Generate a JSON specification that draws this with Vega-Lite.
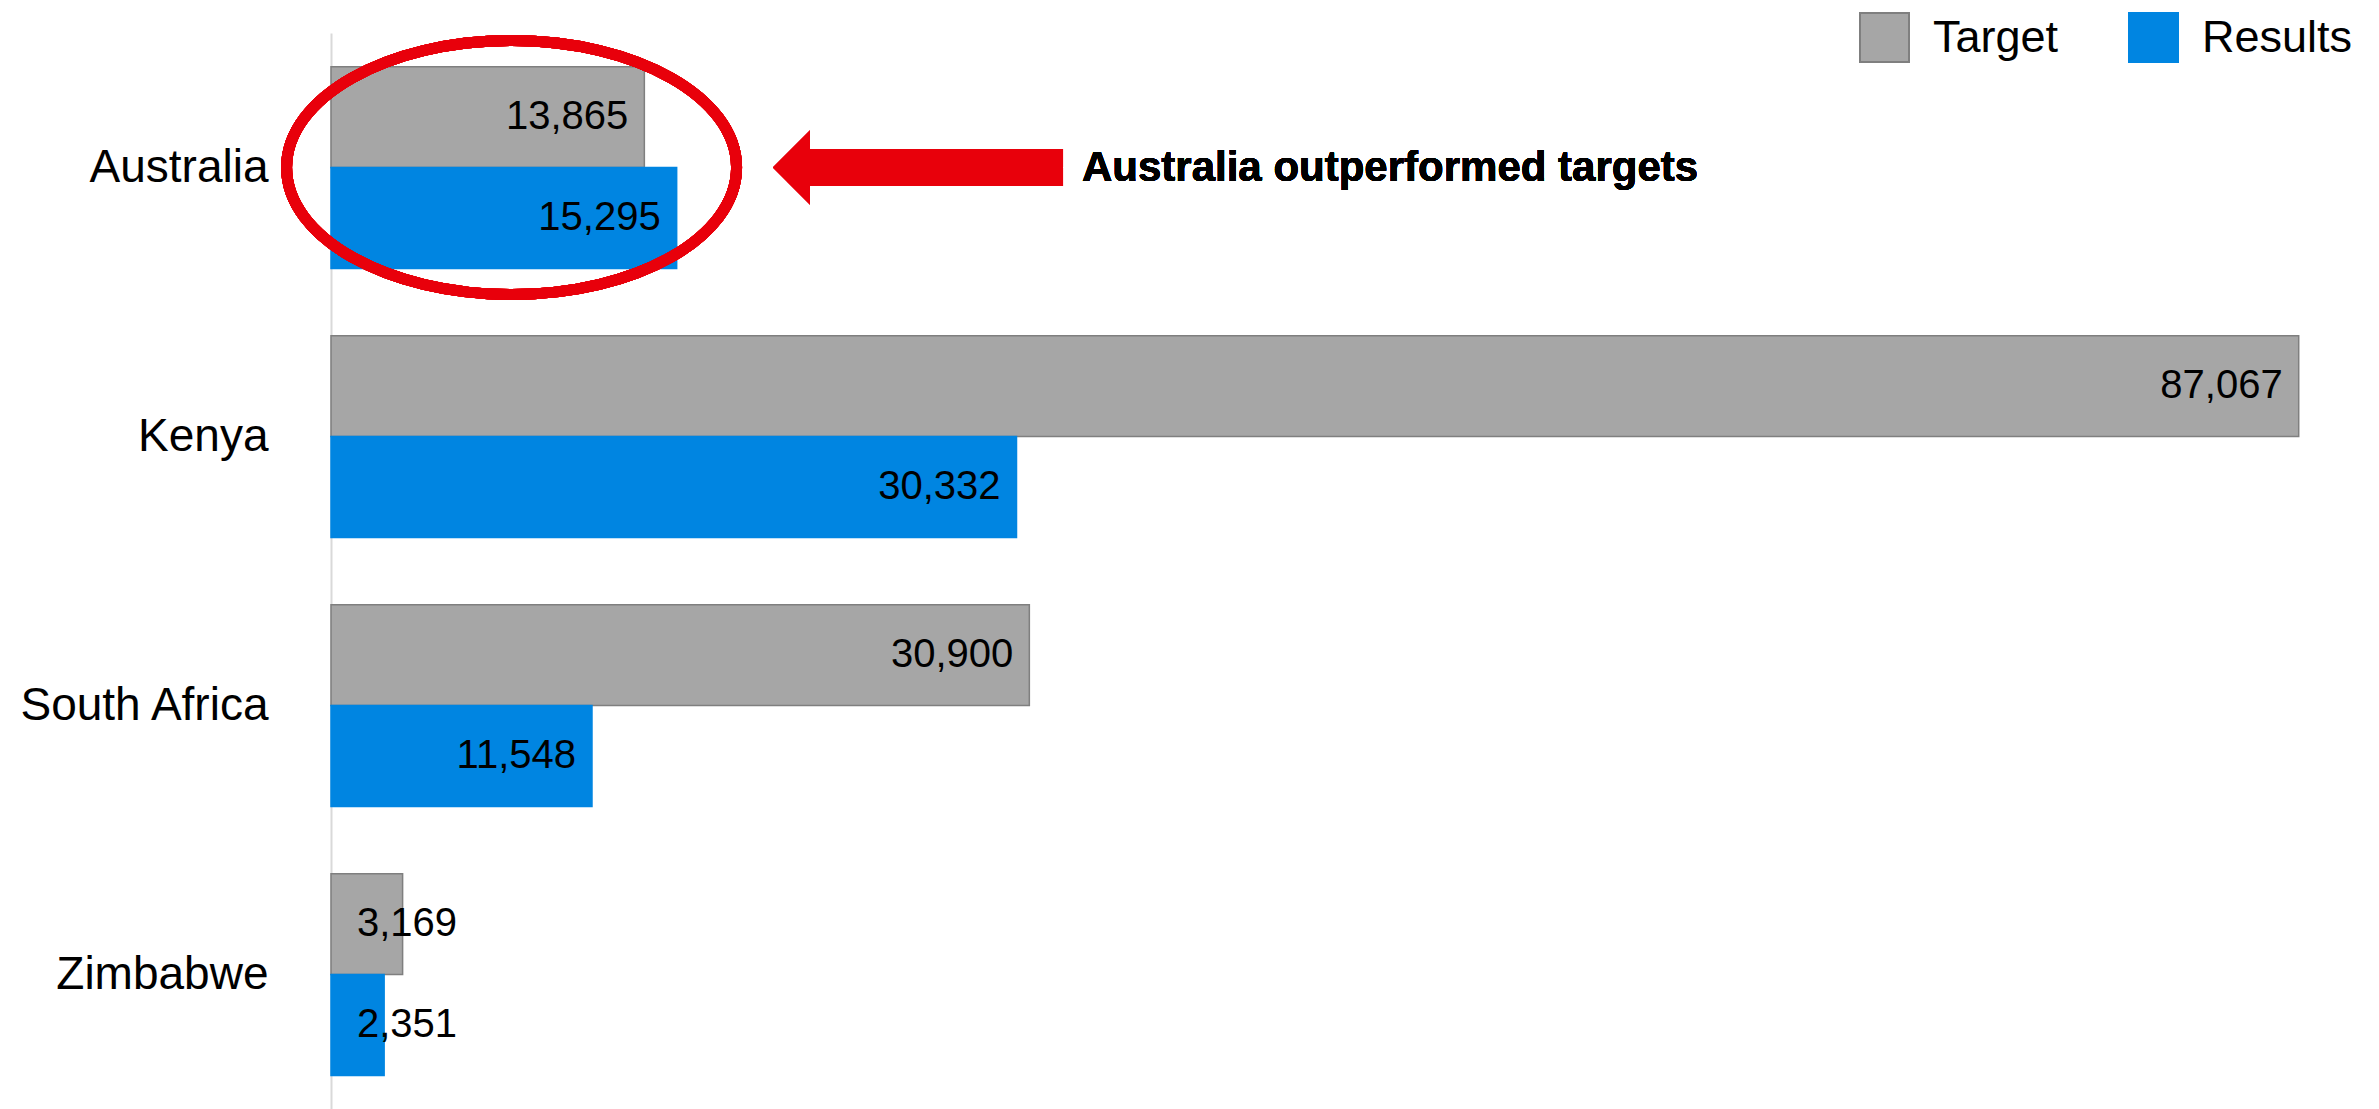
{
  "$schema": "https://vega.github.io/schema/vega-lite/v6.json",
  "autosize": {"type": "none"},
  "padding": {"left": 331, "top": 33, "right": 0, "bottom": 0},
  "width": 2034,
  "height": 1076,
  "background": "white",
  "config": {"view": {"stroke": null}, "font": "Liberation Sans"},
  "data": {
    "values": [
      {"country": "Australia", "series": "Target", "value": 13865},
      {"country": "Australia", "series": "Results", "value": 15295},
      {"country": "Kenya", "series": "Target", "value": 87067},
      {"country": "Kenya", "series": "Results", "value": 30332},
      {"country": "South Africa", "series": "Target", "value": 30900},
      {"country": "South Africa", "series": "Results", "value": 11548},
      {"country": "Zimbabwe", "series": "Target", "value": 3169},
      {"country": "Zimbabwe", "series": "Results", "value": 2351}
    ]
  },
  "encoding": {
    "y": {
      "field": "country",
      "type": "nominal",
      "sort": ["Australia", "Kenya", "South Africa", "Zimbabwe"],
      "scale": {"domain": ["Australia", "Kenya", "South Africa", "Zimbabwe"], "paddingInner": 0.25, "paddingOuter": 0.125},
      "axis": {
        "title": null,
        "ticks": false,
        "labelPadding": 63,
        "labelFontSize": 46,
        "labelLimit": 0,
        "labelColor": "#000000",
        "labelFont": "Liberation Sans",
        "domainColor": "#D9D9D9",
        "domainWidth": 2,
        "grid": false
      }
    }
  },
  "layer": [
    {
      "mark": {"type": "bar", "strokeWidth": 1.5},
      "encoding": {
        "x": {"field": "value", "type": "quantitative", "scale": {"domain": [0, 90000], "nice": false, "zero": true}, "axis": null},
        "yOffset": {"field": "series", "type": "nominal", "sort": ["Target", "Results"], "scale": {"domain": ["Target", "Results"], "paddingInner": 0, "paddingOuter": 0}},
        "color": {
          "field": "series",
          "type": "nominal",
          "sort": ["Target", "Results"],
          "scale": {"domain": ["Target", "Results"], "range": ["#A6A6A6", "#0085E1"]},
          "legend": {
            "title": null,
            "orient": "none",
            "direction": "horizontal",
            "legendX": 1528,
            "legendY": -21,
            "symbolType": "square",
            "symbolSize": 2401,
            "symbolStrokeColor": "#7F7F7F",
            "symbolStrokeWidth": 2,
            "symbolOpacity": 1,
            "labelFontSize": 45,
            "labelFont": "Liberation Sans",
            "labelColor": "#000000",
            "labelOffset": 23,
            "columnPadding": 66,
            "padding": 0
          }
        },
        "stroke": {
          "field": "series",
          "type": "nominal",
          "scale": {"domain": ["Target", "Results"], "range": ["#7F7F7F", "#0085E1"]},
          "legend": null
        }
      }
    },
    {
      "transform": [{"filter": "datum.value >= 5000"}],
      "mark": {"type": "text", "align": "right", "baseline": "middle", "dx": -16, "fontSize": 40, "font": "Liberation Sans", "color": "#000000"},
      "encoding": {
        "x": {"field": "value", "type": "quantitative"},
        "yOffset": {"field": "series", "type": "nominal", "sort": ["Target", "Results"]},
        "text": {"field": "value", "type": "quantitative", "format": ","}
      }
    },
    {
      "transform": [{"filter": "datum.value < 5000"}],
      "mark": {"type": "text", "align": "left", "baseline": "middle", "dx": 26, "fontSize": 40, "font": "Liberation Sans", "color": "#000000"},
      "encoding": {
        "x": {"datum": 0, "type": "quantitative"},
        "yOffset": {"field": "series", "type": "nominal", "sort": ["Target", "Results"]},
        "text": {"field": "value", "type": "quantitative", "format": ","}
      }
    },
    {
      "mark": {
        "type": "point",
        "shape": "M -1 0 C -1 -0.3117 -0.5523 -0.5644 0 -0.5644 C 0.5523 -0.5644 1 -0.3117 1 0 C 1 0.3117 0.5523 0.5644 0 0.5644 C -0.5523 0.5644 -1 0.3117 -1 0 Z",
        "filled": false,
        "stroke": "#E8000B",
        "strokeWidth": 11,
        "opacity": 1,
        "size": 202500
      },
      "encoding": {
        "x": {"datum": 7990, "type": "quantitative"},
        "y": {"datum": "Australia", "type": "nominal"}
      }
    },
    {
      "mark": {
        "type": "point",
        "shape": "M -1 0 L -0.745 -0.255 L -0.745 -0.128 L 1 -0.128 L 1 0.128 L -0.745 0.128 L -0.745 0.255 Z",
        "filled": true,
        "fill": "#E8000B",
        "strokeWidth": 0,
        "opacity": 1,
        "size": 84100
      },
      "encoding": {
        "x": {"datum": 25974, "type": "quantitative"},
        "y": {"datum": "Australia", "type": "nominal"}
      }
    },
    {
      "mark": {"type": "text", "align": "left", "baseline": "middle", "fontSize": 42, "fontWeight": "bold", "font": "Liberation Sans", "color": "#000000"},
      "encoding": {
        "x": {"datum": 33230, "type": "quantitative"},
        "y": {"datum": "Australia", "type": "nominal"},
        "text": {"value": "Australia outperformed targets"}
      }
    }
  ]
}
